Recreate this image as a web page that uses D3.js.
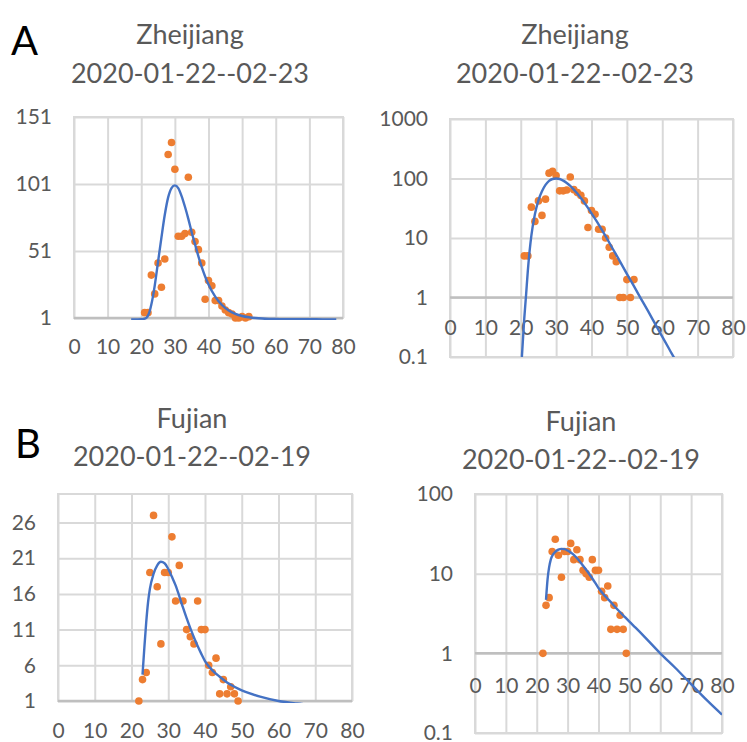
<!DOCTYPE html>
<html>
<head>
<meta charset="utf-8">
<script src="https://cdn.jsdelivr.net/npm/d3@7"></script>
<style>
  body { margin: 0; background: #fff; }
  svg { display: block; }
  text { font-family: Lato, "Open Sans", sans-serif; }
</style>
</head>
<body>
<script>
const W = 747, H = 742;

// day numbers and daily new cases
const zjDays  = [21, 22, 23, 24, 25, 26, 27, 28, 29, 30, 31, 32, 33, 34, 35, 36, 37, 38, 39, 40, 41, 42, 43, 44, 45, 46, 47, 48, 49, 50, 51, 52];
const zjCases = [5, 5, 33, 19, 42, 24, 45, 123, 132, 112, 62, 62, 64, 106, 65, 58, 52, 42, 15, 29, 25, 14, 14, 10, 7, 5, 4, 1, 1, 2, 1, 2];

// fitted curve
const zjFitDays = [17, 18, 19, 20, 20.5, 21, 21.5, 22, 22.5, 23, 24, 25, 26, 27, 28, 29, 30, 31, 32, 33, 34, 35, 36, 37, 38, 39, 40, 42, 44, 46, 48, 50, 52, 54, 56, 58, 60, 62, 64, 66, 70, 74, 78];
const zjFitVals = [0.0002, 0.001, 0.006, 0.05, 0.15, 0.45, 1.1, 2.8, 6, 11, 25, 43, 61, 78, 91, 98, 100, 98, 92, 84, 75, 65, 56, 47, 39, 32, 26, 17, 10.7, 6.6, 4.1, 2.5, 1.55, 0.95, 0.59, 0.36, 0.22, 0.135, 0.083, 0.05, 0.02, 0.007, 0.003];

const fjDays  = [22, 23, 24, 25, 26, 27, 28, 29, 30, 31, 32, 33, 34, 35, 36, 37, 38, 39, 40, 41, 42, 43, 44, 45, 46, 47, 48, 49];
const fjCases = [1, 4, 5, 19, 27, 17, 9, 19, 19, 24, 15, 20, 15, 11, 10, 9, 15, 11, 11, 6, 5, 7, 2, 4, 2, 3, 2, 1];

const fjFitDays = [23, 23.5, 24, 24.5, 25, 26, 27, 28, 29, 30, 31, 32, 33, 34, 35, 36, 37, 38, 39, 40, 42, 44, 46, 48, 50, 52, 55, 60, 65, 70, 75, 80];
const fjFitVals = [4.7, 8.5, 12, 14.8, 16.7, 18.8, 20, 20.5, 20.3, 19.5, 18.4, 17.2, 15.7, 14.1, 12.6, 11.2, 9.9, 8.7, 7.6, 6.6, 5.3, 4.4, 3.6, 3.0, 2.5, 2.1, 1.6, 1.0, 0.65, 0.41, 0.26, 0.17];

// tick labels
const xTicks = [0, 10, 20, 30, 40, 50, 60, 70, 80];
const zjLinTicks = [1, 51, 101, 151];
const zjLogTicks = [0.1, 1, 10, 100, 1000];
const fjLinTicks = [1, 6, 11, 16, 21, 26];
const fjLogTicks = [0.1, 1, 10, 100];

const orange = '#ED7D31';
const blue = '#4472C4';
const grid = '#D9D9D9';
const axisCol = '#BFBFBF';
const labelCol = '#595959';

const svg = d3.select('body').append('svg')
    .attr('width', W)
    .attr('height', H);

const panels = [
    { id: 'al', left: 74, right: 343, top: 117, bottom: 318, log: false, yDomain: [1, 151], yTicks: zjLinTicks, axisAt: 1, pad: 21,
      days: zjDays, cases: zjCases, fitDays: zjFitDays, fitVals: zjFitVals,
      title: ['Zheijiang', '2020-01-22--02-23'], tx: 190, ty: [44, 83] },
    { id: 'ar', left: 450, right: 733, top: 119, bottom: 357, log: true, yDomain: [0.1, 1000], yTicks: zjLogTicks, axisAt: 1, pad: 23,
      days: zjDays, cases: zjCases, fitDays: zjFitDays, fitVals: zjFitVals,
      title: ['Zheijiang', '2020-01-22--02-23'], tx: 575, ty: [44, 83] },
    { id: 'bl', left: 58, right: 352, top: 494, bottom: 701, log: false, yDomain: [1, 30], yTicks: fjLinTicks, axisAt: 1, pad: 22,
      days: fjDays, cases: fjCases, fitDays: fjFitDays, fitVals: fjFitVals,
      title: ['Fujian', '2020-01-22--02-19'], tx: 192, ty: [428, 466] },
    { id: 'br', left: 475, right: 722, top: 494, bottom: 733, log: true, yDomain: [0.1, 100], yTicks: fjLogTicks, axisAt: 1, pad: 25,
      days: fjDays, cases: fjCases, fitDays: fjFitDays, fitVals: fjFitVals,
      title: ['Fujian', '2020-01-22--02-19'], tx: 581, ty: [431, 469] }
];

function drawPanel(p) {
    const g = svg.append('g').attr('class', 'panel-' + p.id);
    const w = p.right - p.left, h = p.bottom - p.top;

    const x = d3.scaleLinear().domain([0, 80]).range([p.left, p.right]);
    const y = (p.log ? d3.scaleLog() : d3.scaleLinear()).domain(p.yDomain).range([p.bottom, p.top]);

    // vertical grid
    g.append('g')
        .attr('transform', `translate(0,${p.bottom})`)
        .call(d3.axisBottom(x).tickValues(xTicks).tickSize(-h).tickFormat(''))
        .call(s => s.select('.domain').remove())
        .selectAll('line').attr('stroke', grid).attr('stroke-width', 2);

    // horizontal grid
    g.append('g')
        .attr('transform', `translate(${p.left},0)`)
        .call(d3.axisLeft(y).tickValues(p.yTicks).tickSize(-w).tickFormat(''))
        .call(s => s.select('.domain').remove())
        .selectAll('line').attr('stroke', grid).attr('stroke-width', 2);

    // plot border
    g.append('rect')
        .attr('x', p.left).attr('y', p.top)
        .attr('width', w).attr('height', h)
        .attr('fill', 'none').attr('stroke', grid).attr('stroke-width', 2);

    // horizontal axis line
    g.append('line')
        .attr('x1', p.left).attr('x2', p.right)
        .attr('y1', y(p.axisAt)).attr('y2', y(p.axisAt))
        .attr('stroke', axisCol).attr('stroke-width', 2.5);

    // y labels
    g.append('g')
        .attr('transform', `translate(${p.left},0)`)
        .call(d3.axisLeft(y).tickValues(p.yTicks).tickSize(0).tickPadding(22).tickFormat(d => String(d)))
        .call(s => s.select('.domain').remove())
        .selectAll('text')
            .attr('fill', labelCol)
            .style('font-size', '21px')
            .style('font-family', 'Lato, sans-serif');

    // x labels
    g.append('g')
        .attr('transform', `translate(0,${y(p.axisAt)})`)
        .call(d3.axisBottom(x).tickValues(xTicks).tickSize(0).tickPadding(p.pad).tickFormat(d => String(d)))
        .call(s => s.select('.domain').remove())
        .selectAll('text')
            .attr('fill', labelCol)
            .style('font-size', '21px')
            .style('font-family', 'Lato, sans-serif');

    // clip for curve
    g.append('clipPath').attr('id', 'clip-' + p.id)
        .append('rect')
            .attr('x', p.left).attr('y', p.top)
            .attr('width', w).attr('height', h + (p.log ? 0 : 2));

    // data points
    const pts = p.days.map((d, i) => ({ day: d, v: p.cases[i] }));
    g.append('g').selectAll('circle')
        .data(pts)
        .enter()
        .append('circle')
            .attr('cx', d => x(d.day))
            .attr('cy', d => y(d.v))
            .attr('r', 3.8)
            .attr('fill', orange);

    // fitted curve
    const fit = p.fitDays.map((d, i) => ({ day: d, v: p.fitVals[i] }));
    const line = d3.line()
        .x(d => x(d.day))
        .y(d => y(d.v))
        .curve(d3.curveMonotoneX);
    g.append('path')
        .datum(fit)
        .attr('clip-path', `url(#clip-${p.id})`)
        .attr('d', line)
        .attr('fill', 'none')
        .attr('stroke', blue)
        .attr('stroke-width', 2.4);

    // title
    const t = g.append('text')
        .attr('text-anchor', 'middle')
        .attr('fill', labelCol)
        .style('font-size', '27px');
    p.title.forEach((s, i) => {
        t.append('tspan').attr('x', p.tx).attr('y', p.ty[i]).text(s);
    });
}

panels.forEach(drawPanel);

// panel letters
svg.append('text').attr('x', 11).attr('y', 55).style('font-size', '40px').attr('fill', '#000').text('A');
svg.append('text').attr('x', 15).attr('y', 458).style('font-size', '40px').attr('fill', '#000').text('B');
</script>
</body>
</html>
